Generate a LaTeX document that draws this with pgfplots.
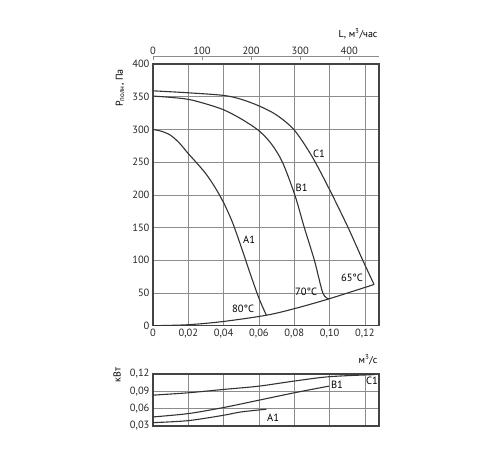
\documentclass[border=0pt]{standalone}
\usepackage{fontspec}
\setmainfont{PT Sans}
\usepackage{pgfplots}
\pgfplotsset{compat=1.18}
\definecolor{crv}{HTML}{333333}
\definecolor{frm}{HTML}{444444}
\definecolor{grd}{HTML}{8C8C8C}
\begin{document}
\begin{tikzpicture}[x=1pt,y=1pt]
\useasboundingbox (0,0) rectangle (500,450);
\pgfplotsset{
  base/.style={
    anchor=south west, scale only axis,
    /pgf/number format/assume math mode=true,
    ticklabel style={font=\fontsize{10.5}{12}\selectfont, text=black!85},
    grid=major, major grid style={grd, line width=0.6pt},
    axis line style={frm, line width=1.2pt},
    tick style={draw=none},
    xmin=0, xmax=0.128,
    xtick={0,0.02,0.04,0.06,0.08,0.10,0.12},
  },
  crvstyle/.style={crv, line width=1.1pt, no marks, smooth, tension=0.5},
}
% top axis (m3/h)
\begin{axis}[at={(153pt,124.3pt)}, anchor=south west, scale only axis,
  width=226pt, height=269pt,
  xmin=0, xmax=460.8, ymin=0, ymax=1,
  axis x line*=top, axis y line=none,
  axis line style={grd, line width=0.6pt, -},
  xtick={0,100,200,300,400},
  tick align=inside, major tick length=3pt,
  tick style={grd, line width=0.6pt},
  /pgf/number format/assume math mode=true,
  ticklabel style={font=\fontsize{10.5}{12}\selectfont, text=black!85},
  xticklabel style={yshift=-1pt}]
\addplot[draw=none] coordinates {(0,0)};
\end{axis}
% main axis
\begin{axis}[base, at={(153pt,124.3pt)}, width=226pt, height=261.7pt,
  ymin=0, ymax=400, ytick={0,50,100,150,200,250,300,350,400},
  xticklabels={0,{0,02},{0,04},{0,06},{0,08},{0,10},{0,12}}]
\addplot[crvstyle] coordinates {(0,300) (0.005,297) (0.01,291) (0.015,279) (0.02,263) (0.025,248) (0.03,232) (0.035,212) (0.04,188) (0.045,158) (0.05,120) (0.055,80) (0.06,42) (0.0642,16)};
\addplot[crvstyle] coordinates {(0,351) (0.01,349) (0.02,346) (0.03,339) (0.04,330) (0.05,316) (0.06,298) (0.067,278) (0.0733,250) (0.0803,200) (0.0857,150) (0.0914,100) (0.0962,50) (0.0996,41)};
\addplot[crvstyle] coordinates {(0,359) (0.02,356) (0.04,352) (0.05,346) (0.06,336) (0.07,322) (0.08,299) (0.09,259) (0.10,208) (0.1105,150) (0.1188,100) (0.1252,63)};
\addplot[crvstyle] coordinates {(0,0) (0.02,1.5) (0.04,6.5) (0.0642,16) (0.08,26) (0.0996,41) (0.1252,63)};
\node[font=\fontsize{10.5}{12}\selectfont] at (axis cs:0.0544,131) {A1};
\node[font=\fontsize{10.5}{12}\selectfont] at (axis cs:0.0842,211) {B1};
\node[font=\fontsize{10.5}{12}\selectfont] at (axis cs:0.094,263) {C1};
\node[font=\fontsize{10.5}{12}\selectfont] at (axis cs:0.051,25.5) {80°C};
\node[font=\fontsize{10.5}{12}\selectfont] at (axis cs:0.0867,51.5) {70°C};
\node[font=\fontsize{10.5}{12}\selectfont] at (axis cs:0.1127,73) {65°C};
\end{axis}
% power axis
\begin{axis}[base, at={(153pt,24pt)}, width=226pt, height=52pt,
  ymin=0.03, ymax=0.12, ytick={0.03,0.06,0.09,0.12},
  yticklabels={{0,03},{0,06},{0,09},{0,12}},
  xticklabels={}]
\addplot[crvstyle] coordinates {(0,0.0834) (0.02,0.0875) (0.04,0.0933) (0.06,0.099) (0.08,0.1078) (0.10,0.1154) (0.1257,0.119)};
\addplot[crvstyle] coordinates {(0,0.0457) (0.02,0.0515) (0.04,0.062) (0.06,0.0747) (0.08,0.0875) (0.0996,0.099)};
\addplot[crvstyle] coordinates {(0,0.0358) (0.02,0.0393) (0.04,0.0486) (0.05,0.0544) (0.0642,0.059)};
\node[font=\fontsize{10.5}{12}\selectfont] at (axis cs:0.1042,0.101) {B1};
\node[font=\fontsize{10.5}{12}\selectfont] at (axis cs:0.124,0.108) {C1};
\node[font=\fontsize{10.5}{12}\selectfont] at (axis cs:0.068,0.0438) {A1};
\end{axis}
\node[anchor=east, font=\fontsize{10}{12}\selectfont] at (381,416) {L, м\textsuperscript{3}/час};
\node[anchor=east, font=\fontsize{10}{12}\selectfont] at (381,90) {м\textsuperscript{3}/с};
\node[rotate=90, font=\fontsize{10}{12}\selectfont] at (120,362) {P\textsubscript{полн}, Па};
\node[rotate=90, font=\fontsize{10}{12}\selectfont] at (117,75) {кВт};
\end{tikzpicture}
\end{document}
